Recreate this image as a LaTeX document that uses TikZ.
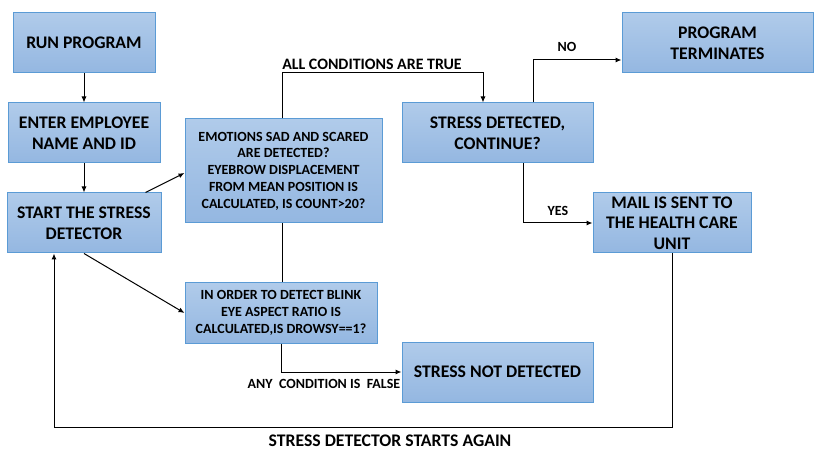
\documentclass[tikz,border=0pt]{standalone}
\usepackage{fontspec}
\setmainfont{Carlito}
\usetikzlibrary{arrows.meta}
\definecolor{boxtop}{HTML}{B0CBEA}
\definecolor{boxbot}{HTML}{94B7E1}
\definecolor{boxline}{HTML}{5B9BD5}
\tikzset{
  box/.style={rectangle, draw=boxline, line width=1pt, top color=boxtop, bottom color=boxbot,
    align=center, inner sep=0pt, font=\fontsize{17.7}{20.7}\selectfont\bfseries},
  smallbox/.style={box, font=\fontsize{14}{16.7}\selectfont\bfseries},
  conn/.style={draw=black, line width=1pt},
  arr/.style={conn, -{Latex[length=6pt,width=5pt]}},
  lbl/.style={font=\fontsize{14}{16}\selectfont\bfseries, inner sep=0pt},
}
\begin{document}
\begin{tikzpicture}[x=1pt,y=-1pt]
\useasboundingbox (0,0) rectangle (827,454);
\node[box, minimum width=142pt, minimum height=60pt] (run) at (84,43) {RUN PROGRAM};
\node[box, minimum width=152pt, minimum height=60pt] (enter) at (84,133) {ENTER EMPLOYEE\\NAME AND ID};
\node[box, minimum width=154pt, minimum height=60pt] (start) at (84,223) {START THE STRESS\\DETECTOR};
\node[smallbox, minimum width=197pt, minimum height=104pt] (emo) at (283.5,171) {EMOTIONS SAD AND SCARED\\ARE DETECTED?\\EYEBROW DISPLACEMENT\\FROM MEAN POSITION IS\\CALCULATED, IS COUNT>20?};
\node[smallbox, minimum width=192pt, minimum height=60pt] (blink) at (281,313) {IN ORDER TO DETECT BLINK\\EYE ASPECT RATIO IS\\CALCULATED,IS DROWSY==1?};
\node[box, minimum width=191pt, minimum height=60pt] (sd) at (497.5,133) {STRESS DETECTED,\\CONTINUE?};
\node[box, minimum width=191pt, minimum height=60pt] (pt) at (717.5,43) {PROGRAM\\TERMINATES};
\node[box, minimum width=158pt, minimum height=60pt] (mail) at (672,223) {MAIL IS SENT TO\\THE HEALTH CARE\\UNIT};
\node[box, minimum width=191pt, minimum height=60pt] (snd) at (497.5,372) {STRESS NOT DETECTED};
\coordinate (loop) at (54,427);

\draw[arr] (run) -- (enter);
\draw[arr] (enter) -- (start);
\draw[arr] ([xshift=-16pt]start.north east) -- ([yshift=-2pt]emo.west);
\draw[arr] (start.south) -- (blink.west);
\draw[arr] ([xshift=-1.5pt]emo.north) -- ++(0,-46) -| ([xshift=-14.5pt]sd.north);
\draw[conn] ([xshift=-1.5pt]emo.south) -- ([xshift=-1.5pt]emo.south |- blink.north);
\draw[arr] (blink.south) |- (snd.west);
\draw[arr] ([xshift=35.5pt]sd.north) |- ([yshift=-17pt]pt.west);
\draw[arr] ([xshift=25.5pt]sd.south) |- (mail.west);
\draw[arr] (mail.south) |- (loop) -- ([xshift=-30pt]start.south);

\node[lbl, font=\fontsize{15.9}{18}\selectfont\bfseries] (ltrue) at (372,64) {ALL CONDITIONS ARE TRUE};
\node[lbl] (lno) at (567,47) {NO};
\node[lbl] (lyes) at (558,211) {YES};
\node[lbl] (lfalse) at (324,384) {ANY\ \ CONDITION IS\ \ FALSE};
\node[lbl, font=\fontsize{17.7}{20}\selectfont\bfseries] (lagain) at (390,441) {STRESS DETECTOR STARTS AGAIN};
\end{tikzpicture}
\end{document}
